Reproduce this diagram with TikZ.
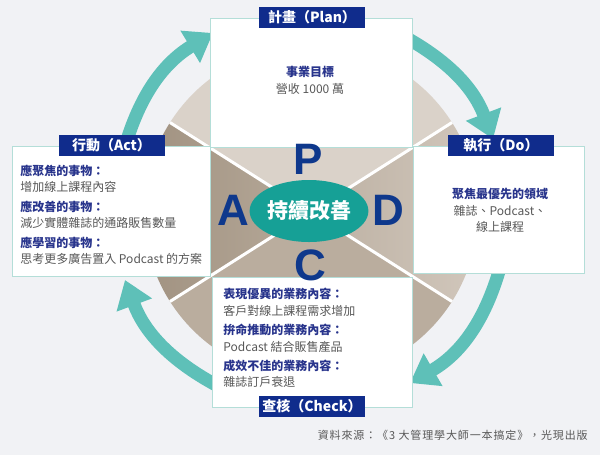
\documentclass[tikz,border=0pt]{standalone}
\usepackage{fontspec}
\setmainfont{Noto Sans CJK TC}
\newfontfamily\latinfont{Liberation Sans}
\newfontfamily\srcfont{Noto Sans CJK TC}[LetterSpace=8]
\usetikzlibrary{arrows.meta,shapes.geometric}

\definecolor{bgGray}{RGB}{241,242,245}
\definecolor{titleBlue}{RGB}{16,44,140}
\definecolor{headBlue}{RGB}{40,52,140}
\definecolor{bodyGray}{RGB}{88,88,88}
\definecolor{arrowTeal}{RGB}{94,192,184}
\definecolor{ovalTeal}{RGB}{22,160,150}
\definecolor{letterBlue}{RGB}{14,56,140}
\definecolor{boxLine}{RGB}{180,222,216}
\definecolor{qTop}{RGB}{218,210,201}
\definecolor{qRightIn}{RGB}{188,176,162}
\definecolor{qRightOut}{RGB}{210,200,189}
\definecolor{qBottom}{RGB}{186,173,158}
\definecolor{qLeftOut}{RGB}{160,145,128}
\definecolor{qLeftIn}{RGB}{182,169,153}

\newcommand\headtxt[1]{{\color{headBlue}\bfseries #1}}

\def\cX{311}
\def\cY{212}
\def\dR{167}
\def\aS{32.4}

\begin{document}
\begin{tikzpicture}[x=0.75pt,y=-0.75pt,
    box/.style={draw=boxLine,line width=0.75pt,fill=white,inner sep=0pt},
    title/.style={fill=titleBlue,text=white,font=\fontsize{10.5}{12}\selectfont\bfseries,
                  minimum width=79.5pt,minimum height=15.75pt,inner sep=0pt},
    body/.style={text=bodyGray,inner sep=0pt},
    turn/.style={draw=arrowTeal,line width=9.75pt,-{Triangle[width=27pt,length=20pt]}},
    xline/.style={draw=white,line width=2.25pt},
    letter/.style={text=letterBlue,font=\fontsize{33}{33}\selectfont\latinfont\bfseries,inner sep=0pt}]

    % background
    \fill[bgGray] (0,0) rectangle (600,455);

    %%   (lable)  (x, y)
    \coordinate (ctr) at (\cX,\cY);

    \coordinate (aA1) at (124,150);
    \coordinate (aA2) at (213, 33);
    \coordinate (aP1) at (405, 37);
    \coordinate (aP2) at (493,139);
    \coordinate (aD1) at (500,268);
    \coordinate (aD2) at (410,383);
    \coordinate (aC1) at (216,385);
    \coordinate (aC2) at (125,280);

    % cycle arrows
    \draw[turn] (aA1) to[bend left=21.5] (aA2);
    \draw[turn] (aP1) to[bend left=20]   (aP2);
    \draw[turn] (aD1) to[bend left=22]   (aD2);
    \draw[turn] (aC1) to[bend left=20.5] (aC2);

    % disk, four parts
    \shade[left color=qRightIn,right color=qRightOut]
        (ctr) -- ++(-\aS:\dR)    arc[start angle=-\aS,    end angle=\aS,     radius=\dR] -- cycle;
    \fill[qBottom]
        (ctr) -- ++(\aS:\dR)     arc[start angle=\aS,     end angle=180-\aS, radius=\dR] -- cycle;
    \shade[left color=qLeftOut,right color=qLeftIn]
        (ctr) -- ++(180-\aS:\dR) arc[start angle=180-\aS, end angle=180+\aS, radius=\dR] -- cycle;
    \fill[qTop]
        (ctr) -- ++(180+\aS:\dR) arc[start angle=180+\aS, end angle=360-\aS, radius=\dR] -- cycle;

    \draw[xline] (ctr) ++(\aS:\dR)  -- ++(180+\aS:2*\dR);
    \draw[xline] (ctr) ++(-\aS:\dR) -- ++(180-\aS:2*\dR);

    % boxes
    \node[box,minimum width=151.5pt,minimum height=96.75pt] (planBox)  at (311,  82.5) {};
    \node[box,minimum width=148.5pt,minimum height=97.5pt]  (actBox)   at (111, 211)   {};
    \node[box,minimum width=128.25pt,minimum height=95.25pt](doBox)    at (498.5,209.5) {};
    \node[box,minimum width=150pt,minimum height=97.5pt]    (checkBox) at (312, 342)   {};

    \node[title] (planT)  at (312,  17) {計畫（Plan）};
    \node[title] (actT)   at (111.5,145) {行動（Act）};
    \node[title] (doT)    at (501, 145) {執行（Do）};
    \node[title] (checkT) at (312, 406) {查核（Check）};

    % box texts
    \node[body,anchor=north,align=center,font=\fontsize{9}{12.75}\selectfont] (planTxt) at (310,66)
        {\headtxt{事業目標}\\ 營收 1000 萬};

    \node[body,anchor=north west,align=left,font=\fontsize{9}{12}\selectfont] (actTxt) at (20,165)
        {\headtxt{應聚焦的事物：}\\ 增加線上課程內容\\[3pt]
         \headtxt{應改善的事物：}\\ 減少實體雜誌的通路販售數量\\[3pt]
         \headtxt{應學習的事物：}\\ 思考更多廣告置入 Podcast 的方案};

    \node[body,anchor=north,align=center,font=\fontsize{9}{12.4}\selectfont] (doTxt) at (500,188)
        {\headtxt{聚焦最優先的領域}\\ 雜誌、Podcast、\\ 線上課程};

    \node[body,anchor=north west,align=left,font=\fontsize{9}{12.6}\selectfont] (checkTxt) at (223,288)
        {\headtxt{表現優異的業務內容：}\\ 客戶對線上課程需求增加\\[1.6pt]
         \headtxt{拚命推動的業務內容：}\\ Podcast 結合販售產品\\[1.6pt]
         \headtxt{成效不佳的業務內容：}\\ 雜誌訂戶衰退};

    % centre
    \node[ellipse,fill=ovalTeal,minimum width=88.5pt,minimum height=46.5pt,inner sep=0pt,
          text=white,font=\fontsize{15.75}{16}\selectfont\bfseries] (oval) at (309,211) {持續改善};

    \node[letter] (P) at (308,159) {P};
    \node[letter] (A) at (233,210) {A};
    \node[letter] (D) at (388,210) {D};
    \node[letter] (C) at (310,265) {C};

    % source
    \node[body,anchor=east,font=\fontsize{8.25}{10}\srcfont] (src) at (588,435)
        {資料來源：《3 大管理學大師一本搞定》，光現出版};

\end{tikzpicture}
\end{document}
